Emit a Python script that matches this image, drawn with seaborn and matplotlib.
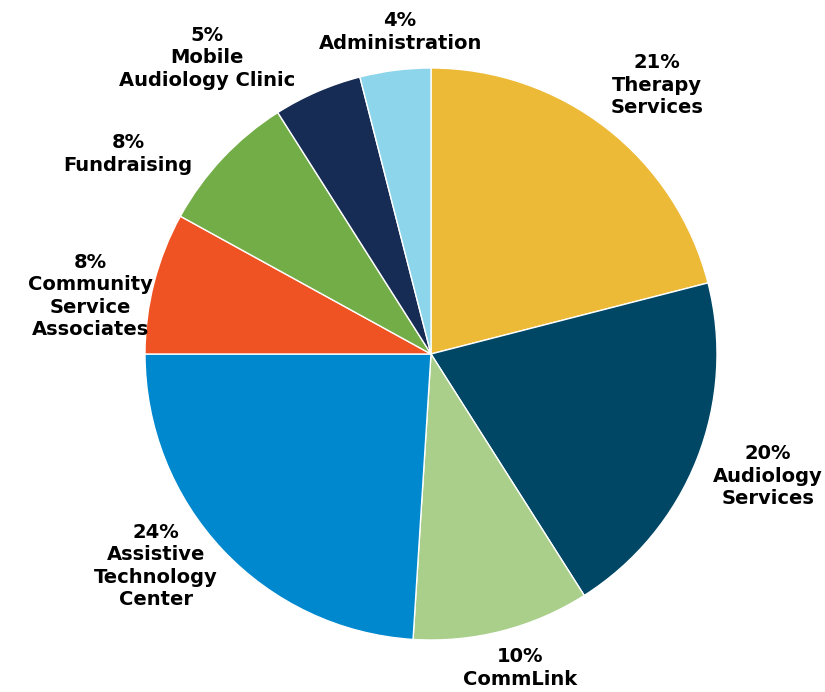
import matplotlib
matplotlib.use("Agg")
import matplotlib.pyplot as plt
import seaborn as sns
import numpy as np

# Data (clockwise from top)
categories = ["Therapy\nServices", "Audiology\nServices", "CommLink",
              "Assistive\nTechnology\nCenter", "Community\nService\nAssociates",
              "Fundraising", "Mobile\nAudiology Clinic", "Administration"]
shares = [21, 20, 10, 24, 8, 8, 5, 4]
colors = ["#EDBA38", "#004766", "#A9CF8A", "#0088CF",
          "#F05323", "#72AD47", "#172C55", "#8DD5EA"]

# label anchor points, in pie radius units
label_pos = [(0.79, 0.94), (1.178, -0.427), (0.311, -1.098), (-0.962, -0.741),
             (-1.192, 0.203), (-1.059, 0.699), (-0.783, 1.035), (-0.108, 1.126)]

sns.set_theme(style="white")
plt.rcParams['font.family'] = ['DejaVu Sans']

fig = plt.figure(figsize=(8.25, 6.92), dpi=100)
cx, cy, r = 431, 354, 286
ax = fig.add_axes([(cx - r) / 825, (692 - cy - r) / 692, 2 * r / 825, 2 * r / 692])

ax.pie(shares, colors=sns.color_palette(colors), startangle=90, counterclock=False,
       radius=1, wedgeprops=dict(edgecolor="white", linewidth=1))
ax.set_xlim(-1, 1)
ax.set_ylim(-1, 1)
ax.set_aspect("equal")
ax.axis("off")

for lab, val, (x, y) in zip(categories, shares, label_pos):
    ax.text(x, y, f"{val}%\n{lab}", ha="center", va="center", fontsize=14,
            fontweight="heavy", color="black", linespacing=1.22)

fig.savefig("out.png", dpi=100, facecolor="white")
